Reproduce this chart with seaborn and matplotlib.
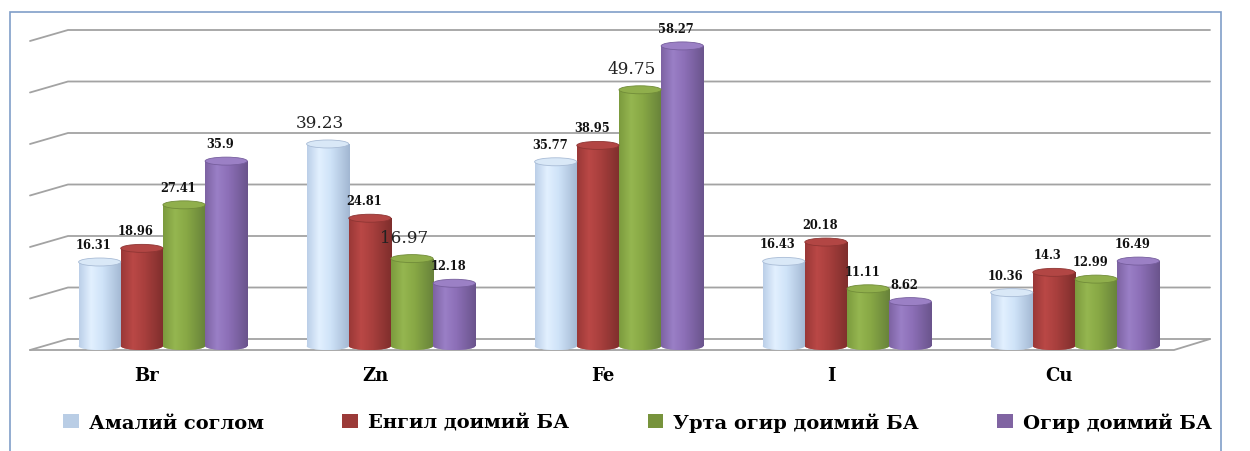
import numpy as np
import pandas as pd
import matplotlib
matplotlib.use("Agg")
import matplotlib.pyplot as plt
import matplotlib.transforms as mtransforms
from matplotlib.patches import Ellipse, Rectangle, Patch
from matplotlib.colors import to_rgb
from matplotlib.font_manager import FontProperties
import seaborn as sns

# ---- data ---------------------------------------------------------------
elements = ["Br", "Zn", "Fe", "I", "Cu"]
groups = ["Амалий соглом", "Енгил доимий БА", "Урта огир доимий БА", "Огир доимий БА"]
healthy = [16.31, 39.23, 35.77, 16.43, 10.36]
mild = [18.96, 24.81, 38.95, 20.18, 14.30]
moderate = [27.41, 16.97, 49.75, 11.11, 12.99]
severe = [35.90, 12.18, 58.27, 8.62, 16.49]

# labels drawn in the larger, light face
large_labels = [("Амалий соглом", "Zn"), ("Урта огир доимий БА", "Zn"),
                ("Урта огир доимий БА", "Fe")]

df = pd.DataFrame({
    "element": elements * 4,
    "group": [g for g in groups for _ in elements],
    "value": healthy + mild + moderate + severe,
})

# ---- style ----------------------------------------------------------------
sns.set_style("white")
plt.rcParams["font.family"] = ["DejaVu Serif"]
plt.rcParams["text.color"] = "black"

legend_colors = ["#B9CDE5", "#9B3A38", "#77933C", "#8064A2"]
# cylinder shading: left edge, highlight, body, right edge
shades = [
    ["#BBCFE8", "#E2F0FF", "#CFE3F8", "#A2B7D2"],
    ["#9A3837", "#BA4846", "#A83F3D", "#7E2E2C"],
    ["#7C9B3E", "#95B650", "#88A845", "#67823A"],
    ["#7D63A3", "#9A7FC6", "#8C6FB7", "#6A548C"],
]
caps = [("#D9E8F7", "#A9BCD6"), ("#B24644", "#8E3533"),
        ("#90AF4C", "#718C39"), ("#9B80C5", "#765E9D")]

W, H, DPI = 1250, 452, 100
fig = plt.figure(figsize=(W / DPI, H / DPI), dpi=DPI)

# axes: y=0 sits at pixel row 347, y=60 at row 38
px_per_unit = 309 / 60
y_lo = -1.6
bottom_px = 347 - y_lo * px_per_unit
ax = fig.add_axes([30 / W, 1 - bottom_px / H, 1180 / W, (bottom_px - 38) / H])

sns.barplot(data=df, x="element", y="value", hue="group", order=elements,
            hue_order=groups, palette=legend_colors, width=0.74, gap=0,
            saturation=1, errorbar=None, legend=False, ax=ax, zorder=3)

ax.set_xlim(-0.583, 4.592)
ax.set_ylim(y_lo, 60)
ax.set_xlabel("")
ax.set_ylabel("")
ax.set_xticks([])
ax.set_yticks([])
for s in ax.spines.values():
    s.set_visible(False)

# ---- back wall gridlines with the 3-D side wall and floor ----------------
blend = mtransforms.blended_transform_factory(ax.transAxes, ax.transData)
back_dy = 7 / px_per_unit      # back wall sits 7 px above the front plane
front_dy = 4 / px_per_unit     # left slant starts 4 px below the front plane
wall_x = 38 / 1180
grid_kw = dict(color="#A3A3A3", lw=1.3, transform=blend, clip_on=False, zorder=1)
for v in range(0, 61, 10):
    ax.plot([0, wall_x, 1], [v - front_dy, v + back_dy, v + back_dy], **grid_kw)
floor_x = (1174 - 30) / 1180
ax.plot([0, floor_x, 1], [-front_dy, -front_dy, back_dy], **grid_kw)

# ---- cylinders ----------------------------------------------------------
cap_h = 8 / px_per_unit
stops_t = [0.0, 0.28, 0.55, 1.0]
t = np.linspace(0, 1, 96)
for container, sh, (cap_fc, cap_ec), g in zip(ax.containers, shades, caps, groups):
    cols = np.array([to_rgb(c) for c in sh])
    grad = np.stack([np.interp(t, stops_t, cols[:, k]) for k in range(3)], axis=-1)
    img = grad[np.newaxis, :, :]
    for bar, el in zip(container, elements):
        x0, w, h = bar.get_x(), bar.get_width(), bar.get_height()
        xc = x0 + w / 2
        bar.set_facecolor(sh[2])
        bar.set_edgecolor("none")
        im = ax.imshow(img, extent=[x0, x0 + w, 0, h], aspect="auto",
                       interpolation="bilinear", zorder=3.1)
        im.set_clip_path(bar)
        # rounded foot of the cylinder
        foot = Ellipse((xc, 0), w, cap_h, facecolor=sh[2], edgecolor="none",
                       zorder=3.0)
        ax.add_patch(foot)
        im2 = ax.imshow(img, extent=[x0, x0 + w, -cap_h / 2, cap_h / 2],
                        aspect="auto", interpolation="bilinear", zorder=3.05)
        im2.set_clip_path(foot)
        # top face
        ax.add_patch(Ellipse((xc, h), w, cap_h, facecolor=cap_fc,
                             edgecolor=cap_ec, lw=0.6, zorder=3.2))
        # value label
        txt = f"{h:g}"
        if (g, el) in large_labels:
            ax.annotate(txt, (xc, h), xytext=(-8, 13), textcoords="offset pixels",
                        ha="center", va="bottom", fontsize=12.2,
                        fontweight="normal", color="#222222", zorder=5)
        else:
            ax.annotate(txt, (xc, h), xytext=(-6, 11), textcoords="offset pixels",
                        ha="center", va="bottom", fontsize=8.3,
                        fontweight="bold", color="#111111", zorder=5)

ax.set_xlim(-0.583, 4.592)
ax.set_ylim(y_lo, 60)

# ---- category names along the front edge --------------------------------
cat_tr = mtransforms.blended_transform_factory(ax.transData, ax.transAxes) + \
    mtransforms.ScaledTranslation(-16 / DPI, -12 / DPI, fig.dpi_scale_trans)
for i, el in enumerate(elements):
    ax.text(i, 0, el, transform=cat_tr, ha="center", va="top",
            fontsize=13, fontweight="bold", color="#000000")

# ---- legend -------------------------------------------------------------
handles = [Patch(facecolor=c, edgecolor="none", label=g)
           for c, g in zip(legend_colors, groups)]
leg = fig.legend(handles=handles, loc="center", bbox_to_anchor=(0.510, 1 - 423 / H),
                 ncol=4, frameon=False,
                 prop=FontProperties(family="DejaVu Serif", weight="bold", size=14),
                 handlelength=0.8, handleheight=0.7, handletextpad=0.5,
                 columnspacing=4.05)
for txt in leg.get_texts():
    txt.set_color("black")

# ---- chart border -------------------------------------------------------
fig.patches.append(Rectangle((10 / W, -0.05), 1211 / W, 1.05 - 13 / H,
                             transform=fig.transFigure, fill=False,
                             edgecolor="#809EC8", lw=1.2))

fig.savefig("out.png", dpi=DPI, facecolor="white")
